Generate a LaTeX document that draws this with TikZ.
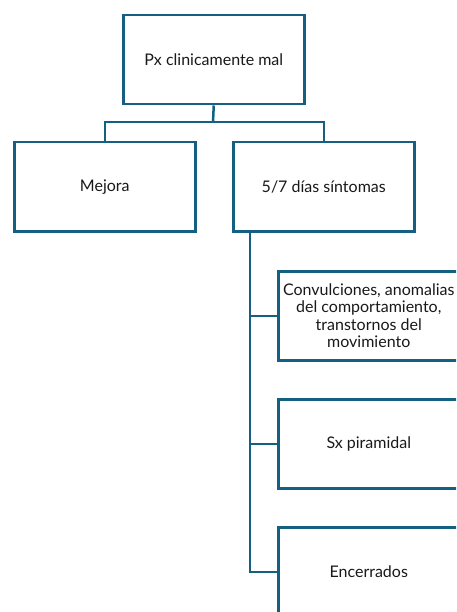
\documentclass[tikz,border=0pt]{standalone}
\usepackage{fontspec}
\setmainfont{Lato}
\definecolor{acc}{HTML}{156082}
\begin{document}
\begin{tikzpicture}[x=1pt,y=-1pt,
  box/.style={draw=acc,line width=2.5pt,fill=white,minimum width=181pt,minimum height=89pt,inner sep=0pt,anchor=north west,align=center,font=\fontsize{16}{17.4}\selectfont,text=black!90},
  conn/.style={draw=acc,line width=2.5pt}]
\useasboundingbox (0,0) rectangle (456,612);
\clip (0,0) rectangle (456,612);
\node[box] (top) at (122,14) {Px clinicamente mal};
\node[box] (mej) at (13,141) {Mejora};
\node[box] (dias) at (232,141) {5/7 días síntomas};
\node[box] (c1) at (277,270) {Convulciones, anomalias\\del comportamiento,\\transtornos del\\movimiento};
\node[box] (c2) at (277,398) {Sx piramidal};
\node[box] (c3) at (277,526) {Encerrados};
\coordinate (j) at (213,122);
\draw[conn] (top.south) -- (j);
\draw[conn] (mej.north) |- (j) -| (dias.north);
\coordinate (v) at (250,0);
\draw[conn] (dias.south -| v) |- (c3.west);
\draw[conn] (c1.west) -- (c1.west -| v);
\draw[conn] (c2.west) -- (c2.west -| v);
\end{tikzpicture}
\end{document}
